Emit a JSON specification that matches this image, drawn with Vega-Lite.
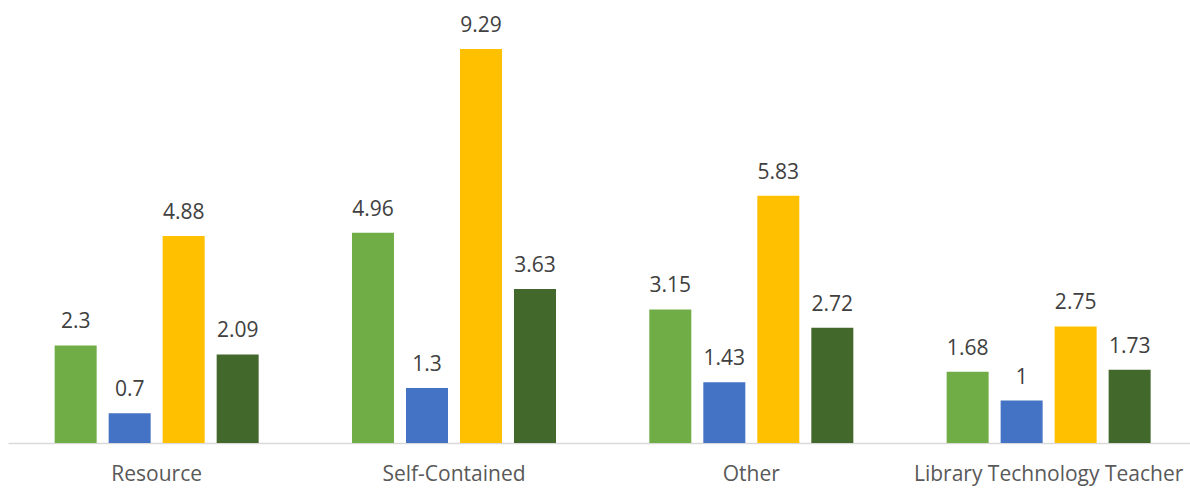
{
  "$schema": "https://vega.github.io/schema/vega-lite/v6.json",
  "autosize": {"type": "none"},
  "padding": {"left": 8, "top": 19, "right": 0, "bottom": 46},
  "width": 1182,
  "height": 424,
  "background": "#ffffff",
  "config": {
    "view": {"stroke": null},
    "font": "Open Sans"
  },
  "data": {
    "values": [
      {"category": "Resource", "series": "Series 1", "value": 2.3},
      {"category": "Resource", "series": "Series 2", "value": 0.7},
      {"category": "Resource", "series": "Series 3", "value": 4.88},
      {"category": "Resource", "series": "Series 4", "value": 2.09},
      {"category": "Self-Contained", "series": "Series 1", "value": 4.96},
      {"category": "Self-Contained", "series": "Series 2", "value": 1.3},
      {"category": "Self-Contained", "series": "Series 3", "value": 9.29},
      {"category": "Self-Contained", "series": "Series 4", "value": 3.63},
      {"category": "Other", "series": "Series 1", "value": 3.15},
      {"category": "Other", "series": "Series 2", "value": 1.43},
      {"category": "Other", "series": "Series 3", "value": 5.83},
      {"category": "Other", "series": "Series 4", "value": 2.72},
      {"category": "Library Technology Teacher", "series": "Series 1", "value": 1.68},
      {"category": "Library Technology Teacher", "series": "Series 2", "value": 1},
      {"category": "Library Technology Teacher", "series": "Series 3", "value": 2.75},
      {"category": "Library Technology Teacher", "series": "Series 4", "value": 1.73}
    ]
  },
  "encoding": {
    "x": {
      "field": "category",
      "type": "nominal",
      "sort": null,
      "scale": {"range": [0, 1189.3], "paddingInner": 0, "paddingOuter": 0},
      "axis": {
        "title": null,
        "labelAngle": 0,
        "labelFontSize": 21,
        "labelColor": "#595959",
        "labelPadding": 20,
        "labelLimit": 0,
        "ticks": false,
        "domainColor": "#d9d9d9",
        "domainWidth": 1.5,
        "labelBaseline": "top"
      }
    },
    "xOffset": {
      "field": "series",
      "type": "nominal",
      "sort": null,
      "scale": {"paddingInner": 0.2222, "paddingOuter": 0.864}
    },
    "y": {
      "field": "value",
      "type": "quantitative",
      "scale": {"domain": [0, 10], "nice": false},
      "axis": null
    }
  },
  "layer": [
    {
      "mark": {"type": "bar"},
      "encoding": {
        "color": {
          "field": "series",
          "type": "nominal",
          "sort": null,
          "scale": {
            "domain": ["Series 1", "Series 2", "Series 3", "Series 4"],
            "range": ["#70ad47", "#4472c4", "#ffc000", "#43682b"]
          },
          "legend": null
        }
      }
    },
    {
      "mark": {"type": "text", "baseline": "alphabetic", "dy": -17, "fontSize": 21, "color": "#404040"},
      "encoding": {
        "text": {"field": "value", "type": "quantitative", "format": ".3~g"}
      }
    }
  ]
}
